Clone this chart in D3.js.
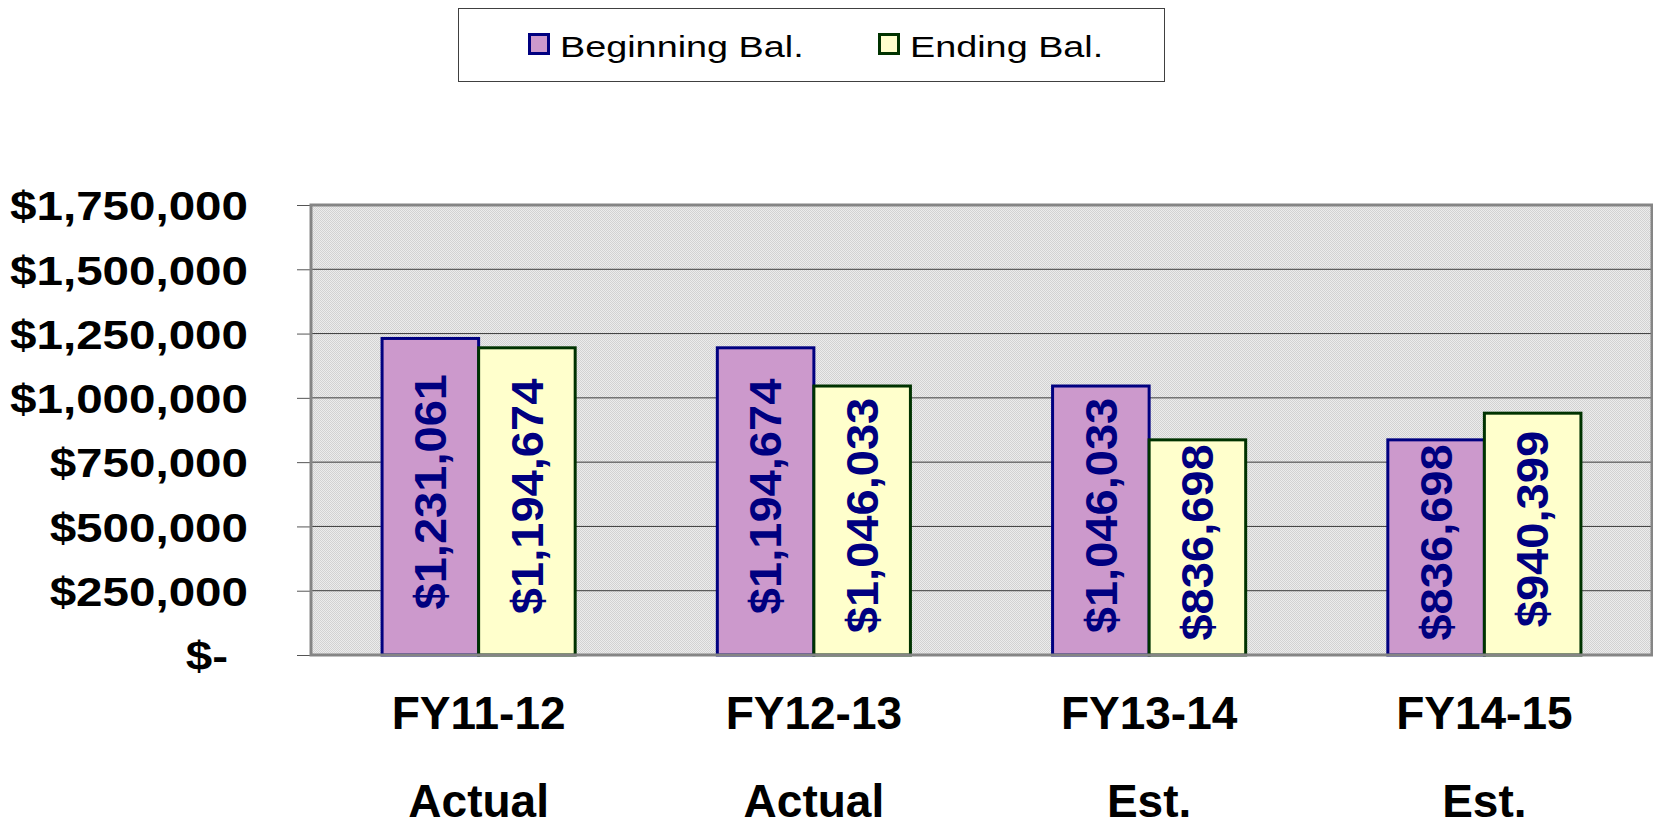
<!DOCTYPE html>
<html>
<head>
<meta charset="utf-8">
<script src="https://cdn.jsdelivr.net/npm/d3@7"></script>
<style>
  body { margin: 0; background: #fff; }
  svg { display: block; font-family: "Liberation Sans", Arial, sans-serif; }
</style>
</head>
<body>
<svg id="chart"></svg>
<script>
const width = 1653;
const height = 822;

// data
const categories = ['FY11-12', 'FY12-13', 'FY13-14', 'FY14-15'];
const subLabels = ['Actual', 'Actual', 'Est.', 'Est.'];
const seriesNames = ['Beginning Bal.', 'Ending Bal.'];
const beginning = [1231061, 1194674, 1046033, 836698];
const ending = [1194674, 1046033, 836698, 940399];
const yTicks = [0, 250000, 500000, 750000, 1000000, 1250000, 1500000, 1750000];

const fills = ['#CC99CC', '#FFFFCC'];
const strokes = ['#000080', '#003300'];

const svg = d3.select('#chart').attr('width', width).attr('height', height);

const margin = { top: 205, right: 1, bottom: 167, left: 311 };
const innerW = width - margin.left - margin.right;
const innerH = height - margin.top - margin.bottom;

// plot area pattern
const defs = svg.append('defs');
const pat = defs.append('pattern')
  .attr('id', 'dots')
  .attr('width', 2).attr('height', 2)
  .attr('patternUnits', 'userSpaceOnUse');
pat.append('rect').attr('width', 2).attr('height', 2).attr('fill', '#ececec');
pat.append('rect').attr('width', 1).attr('height', 1).attr('fill', '#d2d2d2');
pat.append('rect').attr('x', 1).attr('y', 1).attr('width', 1).attr('height', 1).attr('fill', '#d2d2d2');

const g = svg.append('g').attr('transform', `translate(${margin.left},${margin.top})`);

const x0 = d3.scaleBand().domain(categories).range([0, innerW]);
const barW = x0.bandwidth() * 0.288;
const x1 = d3.scaleBand().domain(seriesNames).range([-barW, barW]);
const y = d3.scaleLinear().domain([0, 1750000]).range([innerH, 0]);

g.append('rect')
  .attr('width', innerW).attr('height', innerH)
  .attr('fill', 'url(#dots)');

// gridlines
g.selectAll('.grid')
  .data(yTicks)
  .enter().append('line')
  .attr('class', 'grid')
  .attr('x1', 0).attr('x2', innerW)
  .attr('y1', d => y(d)).attr('y2', d => y(d))
  .attr('stroke', '#3a3a3a').attr('stroke-width', 1);

// y axis
const yFmt = d => d === 0 ? '$-' : '$' + d3.format(',')(d);
const sxY = 1.16;
const yAxis = g.append('g')
  .call(d3.axisLeft(y).tickValues(yTicks).tickFormat(yFmt).tickSize(14).tickPadding(0));
yAxis.select('.domain').remove();
yAxis.selectAll('.tick line').attr('stroke', '#555');
yAxis.selectAll('.tick text')
  .attr('font-family', '"Liberation Sans", Arial, sans-serif')
  .attr('font-size', 41)
  .attr('font-weight', 'bold')
  .attr('fill', '#000')
  .attr('text-anchor', 'end')
  .attr('dy', '0.36em')
  .attr('transform', `scale(${sxY},1)`)
  .attr('x', d => (d === 0 ? -83 : -63) / sxY);

// bars
const data = categories.map((c, i) => ({ cat: c, vals: [beginning[i], ending[i]] }));
const grp = g.selectAll('.grp')
  .data(data)
  .enter().append('g')
  .attr('class', 'grp')
  .attr('transform', d => `translate(${x0(d.cat) + x0.bandwidth() / 2},0)`);

const bars = grp.selectAll('.bar')
  .data(d => d.vals.map((v, j) => ({ key: seriesNames[j], v: v, j: j })))
  .enter().append('g').attr('class', 'bar');

bars.append('rect')
  .attr('x', d => x1(d.key))
  .attr('y', d => y(d.v))
  .attr('width', x1.bandwidth())
  .attr('height', d => innerH - y(d.v))
  .attr('fill', d => fills[d.j])
  .attr('stroke', d => strokes[d.j])
  .attr('stroke-width', 3);

bars.append('text')
  .attr('transform', d => {
    const cx = x1(d.key) + x1.bandwidth() / 2;
    const cy = (y(d.v) + innerH) / 2 - 5;
    return `translate(${cx},${cy}) rotate(-90) scale(1.07,1)`;
  })
  .attr('text-anchor', 'middle')
  .attr('dy', '0.36em')
  .attr('font-size', 44)
  .attr('font-weight', 'bold')
  .attr('fill', '#000080')
  .text(d => '$' + d3.format(',')(d.v));

// plot border
g.append('rect')
  .attr('width', innerW).attr('height', innerH)
  .attr('fill', 'none')
  .attr('stroke', '#858585').attr('stroke-width', 3);

// category labels
const cl = g.selectAll('.cat')
  .data(categories)
  .enter().append('g')
  .attr('class', 'cat')
  .attr('transform', d => `translate(${x0(d) + x0.bandwidth() / 2},0)`);
cl.append('text')
  .attr('y', 74 + innerH)
  .attr('text-anchor', 'middle')
  .attr('font-size', 46).attr('font-weight', 'bold')
  .text(d => d);
cl.append('text')
  .attr('y', 162 + innerH)
  .attr('text-anchor', 'middle')
  .attr('font-size', 46).attr('font-weight', 'bold')
  .text((d, i) => subLabels[i]);

// legend
const lg = svg.append('g').attr('transform', 'translate(458,8)');
lg.append('rect')
  .attr('x', 0.5).attr('y', 0.5)
  .attr('width', 706).attr('height', 73)
  .attr('fill', '#fff').attr('stroke', '#404040').attr('stroke-width', 1);
const lgX = [70, 420];
const li = lg.selectAll('.li')
  .data(seriesNames)
  .enter().append('g')
  .attr('class', 'li')
  .attr('transform', (d, i) => `translate(${lgX[i]},0)`);
li.append('rect')
  .attr('x', 1.5).attr('y', 26.5)
  .attr('width', 19).attr('height', 19)
  .attr('fill', (d, i) => fills[i])
  .attr('stroke', (d, i) => strokes[i])
  .attr('stroke-width', 3);
li.append('text')
  .attr('transform', 'translate(32,48.5) scale(1.26,1)')
  .attr('font-size', 30)
  .attr('fill', '#000')
  .text(d => d);
</script>
</body>
</html>
